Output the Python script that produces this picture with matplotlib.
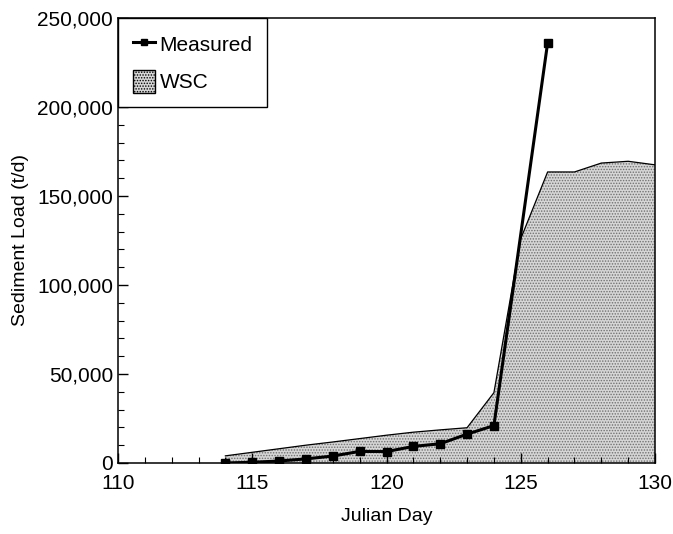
import numpy as np
import matplotlib
matplotlib.use("Agg")
import matplotlib.pyplot as plt
from matplotlib.patches import Patch
from matplotlib.lines import Line2D
from matplotlib.ticker import MultipleLocator, FuncFormatter

plt.rcParams["font.family"] = ["Liberation Sans", "DejaVu Sans"]
plt.rcParams["hatch.linewidth"] = 0.7

# measured sediment load (t/d)
measured_day = [114, 115, 116, 117, 118, 119, 120, 121, 122, 123, 124, 126]
measured_load = [0, 400, 1100, 2300, 3900, 6500, 6400, 9300, 10800, 16200, 21000, 236000]

# WSC estimate
wsc_day = [114, 115, 116, 117, 118, 119, 120, 121, 122, 123, 124, 125, 126, 127, 128, 129, 130]
wsc_load = [4000, 6000, 8000, 10000, 11800, 13700, 15600, 17300, 18600, 19800, 39500,
            126000, 163500, 163500, 168500, 169500, 167500]

fig = plt.figure(figsize=(6.73, 5.34), dpi=100)
ax = fig.add_axes([0.1753, 0.133, 0.798, 0.8333])

ax.fill_between(wsc_day, wsc_load, 0, facecolor="#d6d6d6", edgecolor="#707070",
                hatch="......", linewidth=0, zorder=1)
ax.plot(wsc_day, wsc_load, color="black", linewidth=0.9, zorder=2)
ax.plot(measured_day, measured_load, color="black", linewidth=2.2, marker="s",
        markersize=6, zorder=3)

ax.set_xlim(110, 130)
ax.set_ylim(0, 250000)
ax.xaxis.set_major_locator(MultipleLocator(5))
ax.xaxis.set_minor_locator(MultipleLocator(1))
ax.yaxis.set_major_locator(MultipleLocator(50000))
ax.yaxis.set_minor_locator(MultipleLocator(10000))
ax.yaxis.set_major_formatter(FuncFormatter(lambda v, p: f"{int(v):,}"))
ax.tick_params(which="both", direction="in", top=False, right=False, labelsize=15)
ax.tick_params(which="major", length=7, width=1)
ax.tick_params(which="minor", length=4, width=0.8)
ax.tick_params(axis="x", which="major", pad=8)
for s in ax.spines.values():
    s.set_linewidth(1.1)

ax.set_xlabel("Julian Day", fontsize=14, labelpad=11)
ax.set_ylabel("Sediment Load (t/d)", fontsize=14, labelpad=6)

handles = [
    Line2D([], [], color="black", linewidth=2.2, marker="s", markersize=5),
    Patch(facecolor="#d6d6d6", edgecolor="black", hatch="......", linewidth=1.0),
]
leg = ax.legend(handles, ["Measured", "WSC"],
                loc="upper left", borderaxespad=0, fancybox=False, fontsize=15,
                handlelength=1.1, handleheight=1.3, handletextpad=0.2, borderpad=0.7,
                labelspacing=0.7, framealpha=1)
leg.get_frame().set_edgecolor("black")
leg.get_frame().set_linewidth(1.0)

fig.savefig("out.png", dpi=100)
